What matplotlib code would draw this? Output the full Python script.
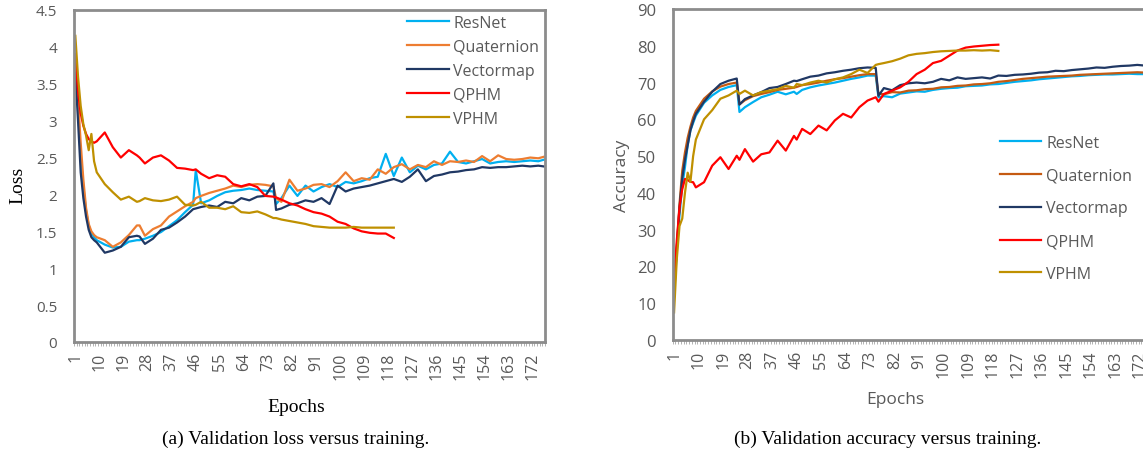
import matplotlib.pyplot as plt
import numpy as np

epochs = [1, 2, 3, 4, 5, 6, 7, 8, 9, 12, 15, 18, 21, 24, 25, 27, 30, 33, 36, 39, 42, 45, 46,
          48, 51, 54, 57, 60, 63, 66, 69, 72, 75, 76, 78, 81, 84, 87, 90, 93, 96, 99, 102,
          105, 108, 111, 114, 117, 120, 123, 126, 129, 132, 135, 138, 141, 144, 147, 150,
          153, 156, 159, 162, 165, 168, 171, 174, 176]
tick_epochs = list(range(1, 173, 9))
names = ['ResNet', 'Quaternion', 'Vectormap', 'QPHM', 'VPHM']

# (a) validation loss
loss_resnet = [3.9, 3.2, 2.5, 2.1, 1.78, 1.58, 1.47, 1.42, 1.38, 1.32, 1.28, 1.29, 1.36, 1.38,
               1.38, 1.40, 1.44, 1.49, 1.57, 1.65, 1.76, 1.86, 2.33, 1.88, 1.92, 1.98, 2.03,
               2.05, 2.06, 2.08, 2.06, 2.05, 2.04, 1.87, 1.95, 2.12, 1.98, 2.12, 2.04, 2.10,
               2.14, 2.10, 2.17, 2.15, 2.18, 2.22, 2.24, 2.55, 2.25, 2.50, 2.30, 2.39, 2.34,
               2.40, 2.42, 2.58, 2.44, 2.42, 2.45, 2.48, 2.42, 2.44, 2.45, 2.44, 2.45, 2.46,
               2.45, 2.47]
loss_quat = [3.7, 3.3, 2.7, 2.2, 1.82, 1.6, 1.5, 1.45, 1.42, 1.38, 1.29, 1.35, 1.45, 1.58,
             1.58, 1.44, 1.53, 1.58, 1.70, 1.77, 1.84, 1.90, 1.95, 1.98, 2.02, 2.05, 2.08,
             2.12, 2.10, 2.13, 2.14, 2.13, 2.11, 1.95, 1.90, 2.20, 2.05, 2.08, 2.13, 2.14,
             2.10, 2.18, 2.30, 2.18, 2.22, 2.20, 2.34, 2.28, 2.37, 2.41, 2.34, 2.40, 2.37,
             2.45, 2.40, 2.45, 2.44, 2.46, 2.44, 2.52, 2.45, 2.53, 2.48, 2.47, 2.48, 2.50,
             2.49, 2.51]
loss_vmap = [3.65, 3.0, 2.3, 1.95, 1.7, 1.52, 1.42, 1.38, 1.35, 1.21, 1.24, 1.29, 1.42, 1.44,
             1.43, 1.33, 1.40, 1.52, 1.55, 1.62, 1.70, 1.80, 1.81, 1.83, 1.85, 1.83, 1.90,
             1.88, 1.95, 1.92, 1.97, 1.98, 2.15, 1.79, 1.81, 1.86, 1.88, 1.92, 1.90, 1.95,
             1.87, 2.12, 2.04, 2.08, 2.10, 2.12, 2.15, 2.18, 2.21, 2.17, 2.24, 2.34, 2.18,
             2.25, 2.27, 2.30, 2.31, 2.33, 2.34, 2.37, 2.36, 2.37, 2.37, 2.38, 2.39, 2.38,
             2.39, 2.38]
loss_qphm = [3.9, 3.4, 3.1, 2.93, 2.82, 2.75, 2.72, 2.70, 2.72, 2.84, 2.64, 2.50, 2.60, 2.53,
             2.50, 2.42, 2.50, 2.53, 2.46, 2.36, 2.35, 2.33, 2.34, 2.28, 2.22, 2.26, 2.24,
             2.14, 2.11, 2.14, 2.10, 1.98, 1.97, 1.96, 1.93, 1.88, 1.85, 1.80, 1.76, 1.74,
             1.70, 1.63, 1.60, 1.54, 1.50, 1.48, 1.47, 1.47, 1.41]
loss_vphm = [4.15, 3.6, 3.2, 2.95, 2.80, 2.60, 2.82, 2.45, 2.30, 2.14, 2.03, 1.93, 1.97, 1.90,
             1.91, 1.95, 1.92, 1.91, 1.93, 1.97, 1.86, 1.85, 1.86, 1.90, 1.82, 1.82, 1.80,
             1.84, 1.76, 1.75, 1.77, 1.73, 1.68, 1.68, 1.66, 1.64, 1.62, 1.60, 1.57, 1.56,
             1.55, 1.55, 1.55, 1.56, 1.55, 1.55, 1.55, 1.55, 1.55]

# (b) validation accuracy
acc_resnet = [12, 24, 34, 42, 47, 53, 57, 59, 61, 64.5, 66.5, 68, 68.8, 69.3, 62, 63.3, 64.7,
              66, 66.7, 67.5, 66.8, 67.5, 66.9, 68, 68.7, 69.2, 69.6, 70, 70.5, 71, 71.4,
              71.9, 71.9, 66, 66.3, 66, 67, 67.3, 67.6, 67.5, 68, 68.3, 68.5, 68.6, 69, 69.1,
              69.2, 69.5, 69.6, 69.9, 70.2, 70.4, 70.6, 70.9, 71.1, 71.3, 71.5, 71.7, 71.8,
              72.0, 72.1, 72.2, 72.2, 72.3, 72.4, 72.3, 72.3, 72.4]
acc_quat = [13, 25, 37, 46, 51, 55, 58, 60.5, 62.3, 65.6, 67.6, 68.9, 69.6, 70, 64.1, 65.2,
            66.3, 66.9, 67.4, 68, 68.3, 68.6, 68.8, 69.3, 69.6, 70, 70.5, 70.9, 71.2, 71.6,
            72, 72.3, 72.3, 67, 66.8, 67.4, 67.3, 67.8, 67.9, 68.2, 68.3, 68.7, 68.8, 69.1,
            69.2, 69.5, 69.6, 69.8, 70.2, 70.4, 70.7, 71, 71.2, 71.4, 71.6, 71.7, 71.8, 71.9,
            72.1, 72.2, 72.3, 72.4, 72.5, 72.6, 72.7, 72.8, 72.7, 72.8]
acc_vmap = [13, 25, 36, 44, 49, 53, 57, 59.5, 61.5, 64.8, 67.5, 69.6, 70.5, 71.1, 64, 65.5,
            66.5, 67.4, 68.5, 68.8, 69.6, 70.5, 70.4, 70.9, 71.6, 71.9, 72.5, 72.8, 73.2,
            73.5, 73.9, 74.1, 74.0, 66.4, 68.5, 67.9, 69.3, 69.8, 70, 69.8, 70.2, 71, 70.6,
            71.4, 71, 71.2, 71.4, 71.1, 71.9, 71.8, 72.1, 72.2, 72.4, 72.7, 72.8, 73.2, 73.1,
            73.4, 73.6, 73.8, 74.1, 74.0, 74.3, 74.5, 74.6, 74.8, 74.6, 74.6]
acc_qphm = [16, 27, 36, 41, 43.8, 43.5, 43, 42.9, 41.5, 42.9, 47.4, 49.7, 46.5, 50.1, 49,
            51.9, 48.5, 50.5, 51, 54.2, 51.5, 55.5, 54.5, 57.4, 56, 58.3, 57, 59.7, 61.5,
            60.5, 63.3, 65.1, 66, 64.8, 66.9, 67.8, 68.7, 70.2, 72.3, 73.5, 75.3, 75.9, 77.3,
            78.7, 79.5, 79.8, 80, 80.2, 80.3]
acc_vphm = [7.5, 22, 31, 33, 40, 45.5, 43, 50, 54.5, 60, 62.5, 65.6, 66.5, 67.8, 66.9, 67.8,
            66.5, 67.4, 67.8, 68.2, 69.1, 68.6, 69.6, 69.3, 70, 70.5, 70, 70.9, 71.4, 72.3,
            73.5, 72.6, 74.8, 75, 75.3, 75.8, 76.5, 77.4, 77.8, 78, 78.3, 78.5, 78.6, 78.7,
            78.7, 78.8, 78.7, 78.8, 78.6]

colors_a = ['#00b0f0', '#ed7d31', '#203864', '#ff0000', '#bf9000']
colors_b = ['#00b0f0', '#c55a11', '#203864', '#ff0000', '#bf9000']

gray = '#595959'
sans = 'Open Sans'
serif = 'Liberation Serif'

W, H = 1143, 456
fig = plt.figure(figsize=(W / 100, H / 100), dpi=100)
ax1 = fig.add_axes([74 / W, 1 - 343 / H, 471 / W, 332 / H])
ax2 = fig.add_axes([672.7 / W, 1 - 341 / H, 479.6 / W, 331 / H])


def style(ax, ylim, yticks, ytick_size):
    ax.set_xlim(0.5, 176.5)
    ax.set_ylim(*ylim)
    ax.set_yticks(yticks)
    ax.set_yticklabels([f'{t:g}' for t in yticks], fontsize=ytick_size, color=gray,
                       fontfamily=sans)
    ax.set_xticks(tick_epochs)
    ax.set_xticklabels([str(t) for t in tick_epochs], rotation=90, fontsize=11.5,
                       color=gray, fontfamily=sans)
    ax.set_xticks(np.arange(0.5, 177, 1), minor=True)
    ax.tick_params(axis='x', which='major', length=0, pad=7)
    ax.tick_params(axis='x', which='minor', length=3, width=0.6, color='#a6a6a6')
    ax.tick_params(axis='y', length=0, pad=12)
    for s in ax.spines.values():
        s.set_color('#8c8c8c')
        s.set_linewidth(2)


series_a = [loss_resnet, loss_quat, loss_vmap, loss_qphm, loss_vphm]
for name, vals, c in zip(names, series_a, colors_a):
    ax1.plot(epochs[:len(vals)], vals, color=c, lw=1.6, label=name)
style(ax1, (0, 4.5), [0, 0.5, 1, 1.5, 2, 2.5, 3, 3.5, 4, 4.5], 11)

series_b = [acc_resnet, acc_quat, acc_vmap, acc_qphm, acc_vphm]
for name, vals, c in zip(names, series_b, colors_b):
    ax2.plot(epochs[:len(vals)], vals, color=c, lw=1.6, label=name)
style(ax2, (0, 90), list(range(0, 91, 10)), 12)

leg1 = ax1.legend(loc='upper left', bbox_to_anchor=(0.707, 0.985), frameon=False,
                  borderpad=0, borderaxespad=0, handlelength=2.6, handletextpad=0.3,
                  labelspacing=0.5, prop={'family': sans, 'size': 11.5})
leg2 = ax2.legend(loc='upper left', bbox_to_anchor=(0.682, 0.62), frameon=False,
                  borderpad=0, borderaxespad=0, handlelength=2.6, handletextpad=0.3,
                  labelspacing=1.05, prop={'family': sans, 'size': 11.5})
for leg in (leg1, leg2):
    for t in leg.get_texts():
        t.set_color(gray)

# axis titles and captions
fig.text(18 / W, 1 - 185 / H, 'Loss', rotation=90, ha='center', va='center',
         fontfamily=serif, fontsize=14)
fig.text(296 / W, 1 - 407 / H, 'Epochs', ha='center', va='center', fontfamily=serif,
         fontsize=14)
fig.text(622 / W, 1 - 176 / H, 'Accuracy', rotation=90, ha='center', va='center',
         fontfamily=sans, fontsize=12.5, color=gray)
fig.text(895 / W, 1 - 400 / H, 'Epochs', ha='center', va='center', fontfamily=sans,
         fontsize=12.5, color=gray)
fig.text(296 / W, 1 - 439 / H, '(a) Validation loss versus training.', ha='center',
         va='center', fontfamily=serif, fontsize=14)
fig.text(888 / W, 1 - 439 / H, '(b) Validation accuracy versus training.', ha='center',
         va='center', fontfamily=serif, fontsize=14)

fig.savefig('out.png', dpi=100)
